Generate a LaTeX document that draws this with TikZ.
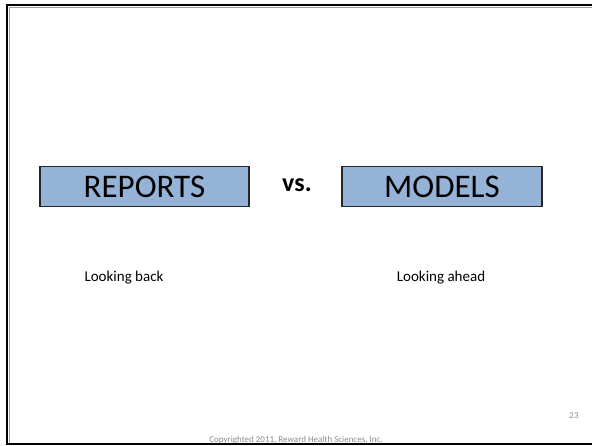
\documentclass[tikz,border=0pt]{standalone}
\usepackage{fontspec}
\setmainfont{Carlito}
\definecolor{boxblue}{HTML}{95B3D7}
\definecolor{shadowgray}{HTML}{A0A0A0}
\definecolor{footgray}{HTML}{8C8C8C}
\begin{document}
\begin{tikzpicture}[x=1pt,y=-1pt,
  bigbox/.style={draw=black!85,line width=1.2pt,fill=boxblue,minimum width=209pt,minimum height=40pt,inner sep=0pt,font=\fontsize{33}{38}\selectfont},
  plain/.style={inner sep=0pt,font=\fontsize{15}{18}\selectfont},
  foot/.style={inner sep=0pt,text=footgray,font=\fontsize{9}{11}\selectfont}]
\useasboundingbox[fill=white] (0,0) rectangle (592,445);
% frame
\draw[shadowgray,line width=1pt] (9.5,445) -- (9.5,7.5) -- (592,7.5);
\draw[black,line width=2.5pt] (7,445) -- (7,5) -- (592,5);
\node[bigbox] (rep) at (144.5,186.5) {REPORTS};
\node[bigbox,minimum width=200pt] (mod) at (442,186.5) {MODELS};
\node[inner sep=0pt,font=\fontsize{26}{30}\selectfont\bfseries] (vs) at (297,185) {vs.};
\node[plain] (back) at (124,278) {Looking back};
\node[plain] (ahead) at (441,278) {Looking ahead};
\node[foot] (num) at (574,416) {23};
\node[foot,anchor=base] (copy) at (296,442.5) {Copyrighted 2011, Reward Health Sciences, Inc.};
\draw[black,line width=2pt] (7,443.5) -- (592,443.5);
\end{tikzpicture}
\end{document}
